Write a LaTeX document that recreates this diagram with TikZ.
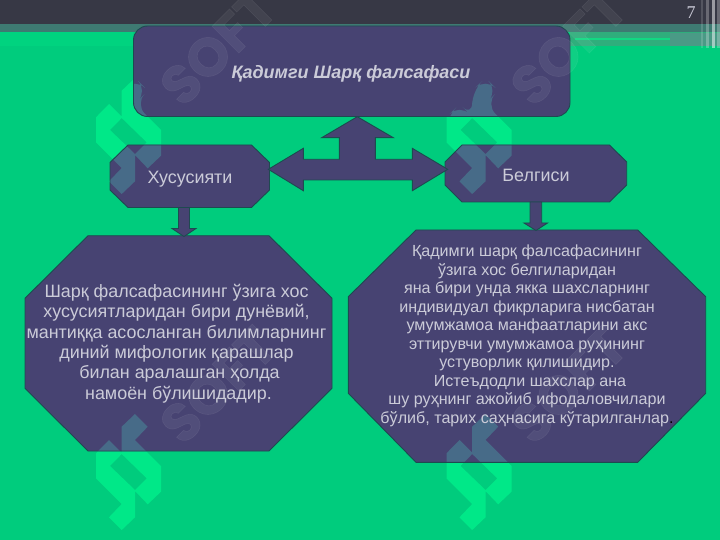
\documentclass[tikz,border=0pt]{standalone}
\usepackage{fontspec}
\setmainfont{Liberation Sans}
\newfontfamily\serifnum{Liberation Serif}
\newfontfamily\softfont[FakeBold=1.2]{Poppins}
\definecolor{bggreen}{HTML}{00CC7D}
\definecolor{logolight}{HTML}{00E888}
\definecolor{logodark}{HTML}{476B88}
\definecolor{boxblue}{HTML}{474372}
\definecolor{boxline}{HTML}{1E4A50}
\definecolor{barcol}{HTML}{373845}
\definecolor{bandcol}{HTML}{3E7A72}
\definecolor{txtcol}{HTML}{CBCBD8}
\definecolor{bandleft}{HTML}{00D37F}
\definecolor{bandright}{HTML}{2FAE7C}
\definecolor{bandbright}{HTML}{12D883}
\definecolor{bandend}{HTML}{4A9A86}
\newcommand{\logomark}[1]{%
  \foreach \dx/\dy in {0/0,350.5/0,0/336,350.5/336}{
    \fill[#1,even odd rule,shift={(\dx,\dy)}]
      (96,117.3)--(109,104)--(121.7,116.7)--(121.7,90.7)--(135,78)--(147.7,90.7)--(135,104)
      --(161,130)--(161,155.7)--(147.7,168.3)--(135,155)--(135,181.3)--(121.7,194)--(109,181.3)
      --(121.7,168)--(96,142.3)--cycle
      (110,130)--(121.7,118)--(146.7,142.3)--(135,154)--cycle;
  }%
}
\newcommand{\softmark}[2]{%
  \node[rotate=45,text=white,opacity=0.06,font=\softfont\bfseries\fontsize{54}{54}\selectfont,inner sep=0pt] (#1) at (#2) {SOFT};%
}
\tikzset{
  shapebox/.style={draw=boxline,fill=boxblue,line width=0.9pt,line join=miter,path picture={\logomark{logodark}}},
  blockarrow/.style={draw=boxline,fill=boxblue,line width=0.9pt,line join=miter},
  boxtext/.style={text=txtcol,align=center,inner sep=0pt}
}
\begin{document}
\begin{tikzpicture}[x=1pt,y=-1pt]
\useasboundingbox (0,0) rectangle (720,540);
\fill[bggreen] (0,0) rectangle (720,540);
% header
\fill[barcol] (0,0) rectangle (720,24);
\fill[bandcol] (0,24) rectangle (720,32);
\fill[bandleft] (0,32) rectangle (133,46);
\fill[bandright] (570,32) rectangle (720,46);
\fill[bandbright] (575,38) rectangle (670,40.5);
\fill[bandend] (670,33) rectangle (720,46);
\fill[white,opacity=.15] (701,0) rectangle (703,48);
\fill[white,opacity=.25] (706,0) rectangle (709,48);
\fill[white,opacity=.5] (712,0) rectangle (715,48);
\fill[white,opacity=.25] (717,0) rectangle (720,48);
\logomark{logolight}
% shapes
\path[shapebox,rounded corners=14pt] (133.5,26) rectangle (570,116.5);
\path[shapebox] (128,145)--(251.5,145)--(269.5,162.5)--(269.5,190)--(251.5,207.5)--(128,207.5)--(110,190)--(110,162.5)--cycle;
\path[shapebox] (462,145)--(609.5,145)--(626.7,162)--(626.7,185)--(609.5,202)--(462,202)--(445,185)--(445,162)--cycle;
\path[shapebox] (88,235.7)--(269,235.7)--(332,298.3)--(332,388.3)--(269,451)--(88,451)--(25,388.3)--(25,298.3)--cycle;
\path[shapebox] (416,230)--(637.7,230)--(705.7,296.7)--(705.7,393.3)--(637.7,462.3)--(416,462.3)--(348.3,393.3)--(348.3,296.7)--cycle;
% block arrows
\path[blockarrow] (357.3,116.7)--(393.3,137.7)--(375.3,137.7)--(375.3,159.3)--(412.3,159.3)--(412.3,148.3)--(447.7,169.3)--(412.3,190.7)--(412.3,180)--(303.3,180)--(303.3,190.7)--(268.3,169.3)--(303.3,148.3)--(303.3,159.3)--(339.3,159.3)--(339.3,137.7)--(321.7,137.7)--cycle;
\path[blockarrow] (178.5,207.5)--(189.5,207.5)--(189.5,228.5)--(196,228.5)--(184,236.5)--(172,228.5)--(178.5,228.5)--cycle;
\path[blockarrow] (530,202)--(541.7,202)--(541.7,223)--(547.5,223)--(536,230.5)--(524,223)--(530,223)--cycle;
% watermark text
\softmark{wa}{218,47}
\softmark{wb}{568.5,47}
\softmark{wc}{218,385}
\softmark{wd}{568.5,385}
% labels
\node[boxtext,font=\bfseries\itshape\fontsize{18}{20}\selectfont] (title) at (351,73.5) {Қадимги Шарқ фалсафаси};
\node[boxtext,font=\fontsize{17.9}{20}\selectfont] (hus) at (190,179) {Хусусияти};
\node[boxtext,font=\fontsize{17.9}{20}\selectfont] (bel) at (536,175) {Белгиси};
\node[boxtext,font=\fontsize{17.9}{20.3}\selectfont] (ltext) at (176.5,343.6) {Шарқ фалсафасининг ўзига хос\\хусусиятларидан бири дунёвий,\\мантиққа асосланган билимларнинг\\диний мифологик қарашлар\\\hspace*{6pt}билан аралашган ҳолда\\\hspace*{4pt}намоён бўлишидадир.};
\node[boxtext,font=\fontsize{16.1}{18.5}\selectfont] (rtext) at (527,336) {Қадимги шарқ фалсафасининг\\ўзига хос белгиларидан\\яна бири унда якка шахсларнинг\\индивидуал фикрларига нисбатан\\умумжамоа манфаатларини акс\\эттирувчи умумжамоа руҳининг\\устуворлик қилишидир.\\\hspace*{6pt}Истеъдодли шахслар ана\\шу руҳнинг ажойиб ифодаловчилари\\бўлиб, тарих саҳнасига кўтарилганлар\textcolor{black}{.}};
\node[text=txtcol,inner sep=0pt,font=\serifnum\fontsize{18}{18}\selectfont] (pg) at (691,12.5) {7};
\end{tikzpicture}
\end{document}
